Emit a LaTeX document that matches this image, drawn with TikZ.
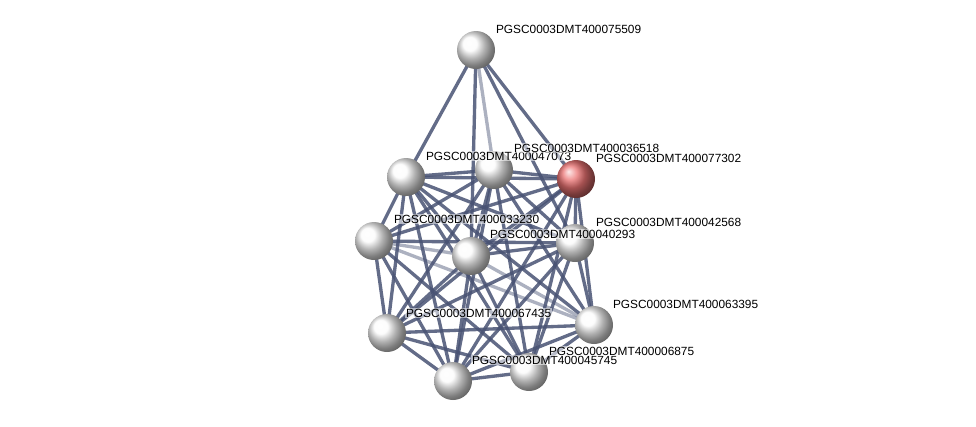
\documentclass[tikz,border=0pt]{standalone}
\usepackage{fontspec}
\setmainfont{Liberation Sans}
\usetikzlibrary{positioning}

\tikzset{
  protein/.style={circle, minimum size=28.5pt, inner sep=0pt, shading=ball, ball color=gray!3},
  query/.style={protein, ball color={rgb,255:red,235;green,115;blue,115}},
  tag/.style={anchor=base west, font=\fontsize{8.9pt}{10pt}\selectfont, inner sep=0.6pt,
              fill=white, fill opacity=0.55, text opacity=1},
  link/.style={line width=2.5pt, draw={rgb,255:red,72;green,82;blue,115}, opacity=0.85},
  weak/.style={link, opacity=0.45}
}

\begin{document}
\begin{tikzpicture}[x=0.75pt, y=-0.75pt]
\useasboundingbox (0,0) rectangle (976,426);

% proteins
\coordinate (a) at (476,50);
\coordinate (b) at (406,177);
\coordinate (c) at (494,170);
\coordinate (r) at (576,179);
\coordinate (d) at (374,241);
\coordinate (e) at (471,256);
\coordinate (f) at (575,243);
\coordinate (g) at (594,325);
\coordinate (h) at (387,333);
\coordinate (i) at (453,381);
\coordinate (j) at (529,372);

% edges from the top protein
\draw[link] (a) -- (b);
\draw[link] (a) -- (e);
\draw[weak] (a) -- (c);
\draw[link] (a) -- (r);
\draw[link] (a) -- (f);

% dense core
\foreach \u/\v in {b/c,b/r,b/d,b/e,b/f,b/g,b/h,b/i,b/j,
                   c/r,c/d,c/e,c/f,c/g,c/h,c/i,c/j,
                   r/d,r/e,r/f,r/g,r/h,r/i,r/j,
                   d/f,d/h,d/i,d/j,
                   e/f,e/h,e/i,e/j,
                   f/g,f/h,f/i,f/j,
                   g/h,g/i,g/j,
                   h/i,h/j,i/j}
  \draw[link] (\u) -- (\v);
\foreach \u/\v in {d/e,d/g,e/g}
  \draw[weak] (\u) -- (\v);

\node[protein] (na) at (a) {};
\node[protein] (nb) at (b) {};
\node[protein] (nc) at (c) {};
\node[query]   (nr) at (r) {};
\node[protein] (nd) at (d) {};
\node[protein] (ne) at (e) {};
\node[protein] (nf) at (f) {};
\node[protein] (ng) at (g) {};
\node[protein] (nh) at (h) {};
\node[protein] (ni) at (i) {};
\node[protein] (nj) at (j) {};

% labels
\node[tag] (la) at (495,33)  {PGSC0003DMT400075509};
\node[tag] (lb) at (425,160) {PGSC0003DMT400047073};
\node[tag] (lc) at (513,152) {PGSC0003DMT400036518};
\node[tag] (lr) at (595,162) {PGSC0003DMT400077302};
\node[tag] (ld) at (393,223) {PGSC0003DMT400033230};
\node[tag] (le) at (489,238) {PGSC0003DMT400040293};
\node[tag] (lf) at (595,226) {PGSC0003DMT400042568};
\node[tag] (lg) at (612,308) {PGSC0003DMT400063395};
\node[tag] (lh) at (405,317) {PGSC0003DMT400067435};
\node[tag] (li) at (471,364) {PGSC0003DMT400045745};
\node[tag] (lj) at (548,355) {PGSC0003DMT400006875};
\end{tikzpicture}
\end{document}
